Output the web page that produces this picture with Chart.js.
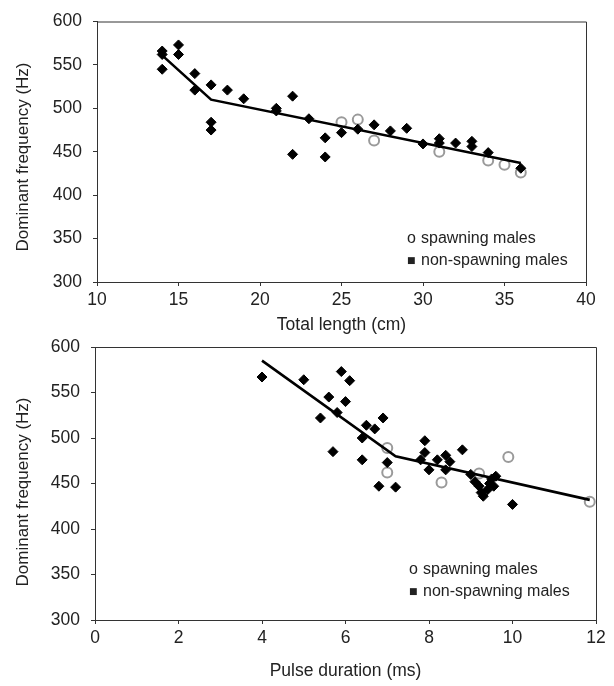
<!DOCTYPE html>
<html><head><meta charset="utf-8">
<script src="https://cdn.jsdelivr.net/npm/chart.js@4.4.0/dist/chart.umd.min.js"></script>
<style>
html,body{margin:0;padding:0;background:#fff;}
body{width:614px;height:686px;position:relative;overflow:hidden;}
canvas{position:absolute;left:0;display:block;}
#c1{top:0;} #c2{top:325px;}
</style></head><body>
<canvas id="c1" width="614" height="343"></canvas>
<canvas id="c2" width="614" height="361"></canvas>
<script>
// ---------- Top chart: total length ----------
const lengthNonSpawning = [14,14,14,15,15,16,16,17,17,17,18,19,21,21,22,22,23,24,24,25,26,27,28,29,30,31,31,32,33,33,34,36];
const freqNonSpawningL  = [566,562,545,573,562,540,521,527,484,475,521,511,500,497,514,447,488,466,444,472,476,481,474,477,459,465,460,460,462,456,449,431];
const lengthSpawning    = [25,26,27,31,34,35,36];
const freqSpawningL     = [484,487,463,450,440,435,426];
const lengthFitX        = [14,17,36];
const lengthFitY        = [561,510,437];
const lengthTicks       = [10,15,20,25,30,35,40];

// ---------- Bottom chart: pulse duration ----------
const pulseNonSpawning = [4.0,5.0,5.4,5.6,5.7,5.8,5.9,6.0,6.1,6.4,6.4,6.5,6.7,6.8,6.9,7.0,7.2,7.8,7.9,7.9,8.0,8.2,8.4,8.4,8.5,8.8,9.0,9.1,9.2,9.25,9.3,9.4,9.45,9.5,9.55,9.6,10.0];
const freqNonSpawningP = [567,564,522,545,485,528,573,540,563,500,476,514,510,447,522,473,446,476,497,484,465,476,481,465,474,487,460,452,447,440,436,443,450,455,447,458,427];
const pulseSpawning    = [7.0,7.0,8.3,9.2,9.9,11.85];
const freqSpawningP    = [489,462,451,461,479,430];
const pulseFitX        = [4.0,7.2,11.85];
const pulseFitY        = [585,480,432];
const pulseTicks       = [0,2,4,6,8,10,12];

const freqTicks = [300,350,400,450,500,550,600];
const yTitle = 'Dominant frequency (Hz)';
const legendSpawning = 'spawning males';
const legendNonSpawning = 'non-spawning males';

const FAM = '"Liberation Sans", Arial, Helvetica, sans-serif';
const TXT = '#222';
const AX = '#333';

function pts(xs, ys){ return xs.map((x,i)=>({x:x, y:ys[i]})); }

const decor = {
  id:'decor',
  afterDraw(chart, args, o){
    const {ctx, chartArea:a} = chart;
    ctx.save();
    ctx.strokeStyle = AX; ctx.lineWidth = 1;
    ctx.beginPath();
    ctx.moveTo(a.left, a.top+0.5); ctx.lineTo(a.right+0.5, a.top+0.5);
    ctx.lineTo(a.right+0.5, a.bottom);
    ctx.stroke();
    ctx.fillStyle = TXT;
    ctx.font = '17px ' + FAM;
    ctx.textAlign = 'center'; ctx.textBaseline = 'middle';
    ctx.translate(o.ytx, o.yty); ctx.rotate(-Math.PI/2);
    ctx.fillText(yTitle, 0, 0);
    ctx.setTransform(1,0,0,1,0,0);
    ctx.textAlign = 'left';
    ctx.font = '16px ' + FAM;
    ctx.fillText('o', o.lx, o.ly1);
    ctx.fillText(legendSpawning, o.lx + 14, o.ly1);
    ctx.font = '9px "DejaVu Sans", sans-serif';
    ctx.fillText('\u25A0', o.lx, o.ly2);
    ctx.font = '16px ' + FAM;
    ctx.fillText(legendNonSpawning, o.lx + 14, o.ly2);
    ctx.restore();
  }
};

function build(id, cfg){
  const ticksOf = arr => (s => { s.ticks = arr.map(v=>({value:v})); });
  return new Chart(document.getElementById(id), {
    type:'scatter',
    data:{datasets:[
      {data:pts(cfg.fx, cfg.fy), showLine:true, borderColor:'#000', borderWidth:2.6, pointRadius:0, fill:false, tension:0, order:0},
      {data:pts(cfg.nx, cfg.ny), pointStyle:'rectRot', pointRadius:5, backgroundColor:'#000', borderColor:'#000', borderWidth:1, order:1},
      {data:pts(cfg.sx, cfg.sy), pointStyle:'circle', pointRadius:5, backgroundColor:'rgba(0,0,0,0)', borderColor:'#9a9a9a', borderWidth:2, order:2}
    ]},
    options:{
      responsive:false, animation:false, devicePixelRatio:1,
      layout:{padding:{left:0, right:cfg.padR, top:cfg.padT, bottom:cfg.padB}},
      plugins:{legend:{display:false}, tooltip:{enabled:false}, decor:cfg.decor},
      scales:{
        x:{type:'linear', min:cfg.xmin, max:cfg.xmax,
           afterBuildTicks:ticksOf(cfg.xticks),
           grid:{drawOnChartArea:false, drawTicks:true, tickLength:4, color:AX},
           border:{color:AX, width:1},
           ticks:{color:TXT, font:{family:FAM, size:17.5}, padding:cfg.xpad, maxRotation:0, autoSkip:false},
           title:{display:true, text:cfg.xtitle, color:TXT, font:{family:FAM, size:17.5}, padding:0},
           afterFit(s){ s.height = cfg.xh; }
        },
        y:{type:'linear', min:300, max:600,
           afterBuildTicks:ticksOf(freqTicks),
           grid:{drawOnChartArea:false, drawTicks:true, tickLength:4, color:AX},
           border:{color:AX, width:1},
           ticks:{color:TXT, font:{family:FAM, size:17.5}, padding:11, autoSkip:false},
           afterFit(s){ s.width = cfg.yw; }
        }
      }
    },
    plugins:[decor]
  });
}

build('c1', {
  fx:lengthFitX, fy:lengthFitY, nx:lengthNonSpawning, ny:freqNonSpawningL, sx:lengthSpawning, sy:freqSpawningL,
  xmin:10, xmax:40, xticks:lengthTicks, xtitle:'Total length (cm)',
  padR:28, padT:16, padB:7, xh:54, yw:97, xpad:4,
  decor:{ytx:23, yty:157, lx:407, ly1:239, ly2:261}
});
build('c2', {
  fx:pulseFitX, fy:pulseFitY, nx:pulseNonSpawning, ny:freqNonSpawningP, sx:pulseSpawning, sy:freqSpawningP,
  xmin:0, xmax:12, xticks:pulseTicks, xtitle:'Pulse duration (ms)',
  padR:18, padT:22, padB:4, xh:62, yw:95, xpad:4,
  decor:{ytx:23, yty:167, lx:409, ly1:245, ly2:267}
});
</script>
</body></html>
